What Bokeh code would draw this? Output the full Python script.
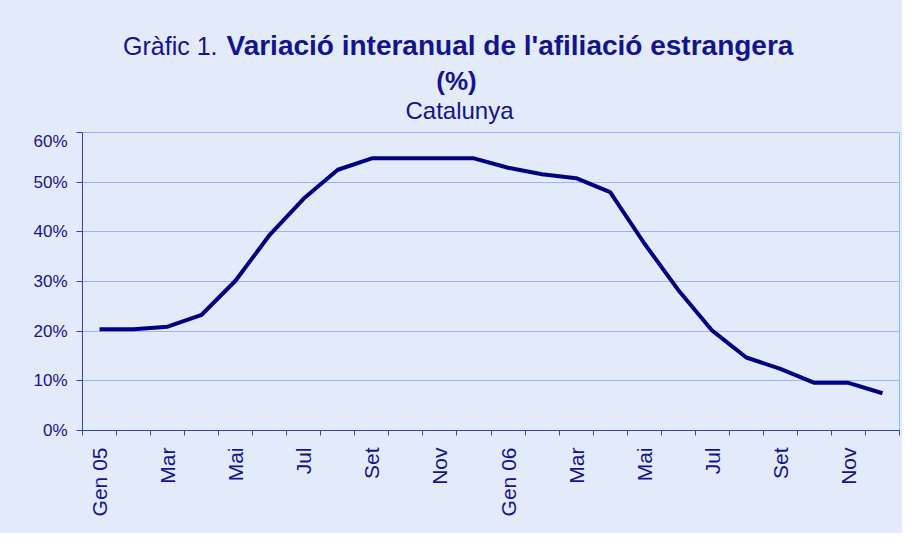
import math
from bokeh.plotting import figure
from bokeh.layouts import column
from bokeh.models import Range1d, FixedTicker, Label, PrintfTickFormatter
from bokeh.embed import file_html
from bokeh.resources import INLINE

# ---- data ----
months = ["Gen 05", "Feb", "Mar", "Abr", "Mai", "Jun", "Jul", "Ago", "Set", "Oct", "Nov", "Des",
          "Gen 06", "Feb", "Mar", "Abr", "Mai", "Jun", "Jul", "Ago", "Set", "Oct", "Nov", "Des"]
variacio = [20.4, 20.4, 20.9, 23.3, 30.2, 39.4, 46.7, 52.5, 54.8, 54.8, 54.8, 54.8,
            52.9, 51.6, 50.8, 48.0, 37.7, 28.3, 20.1, 14.7, 12.4, 9.6, 9.6, 7.5]
y_ticks = [0, 10, 20, 30, 40, 50, 60]

BG = "#E3EAFA"
GRID = "#99B3FF"
AXIS = "#3344AA"
TEXT = "#14148C"
LINE = "#000080"

W = 902
FL, FR = 82, 899  # frame left / right in canvas pixels
TH = 131          # title strip height
PH = 533 - TH     # plot figure height

# ---- title strip (pixel-like coordinates, y downwards) ----
tf = figure(width=W, height=TH, output_backend="svg", toolbar_location=None,
            x_range=Range1d(FL, FR), y_range=Range1d(TH, 0),
            x_axis_location=None, y_axis_location=None,
            background_fill_color=None, border_fill_color=BG,
            min_border_left=FL, min_border_right=W - FR,
            min_border_top=0, min_border_bottom=0, outline_line_color=None)
tf.grid.visible = False

tf.add_layout(Label(x=217, y=45, text="Gràfic 1.", text_align="right",
                    text_baseline="alphabetic", text_font="Liberation Sans",
                    text_font_size="25px", text_color=TEXT))
tf.add_layout(Label(x=226, y=45, text="Variació interanual de l'afiliació estrangera",
                    text_align="left", text_baseline="alphabetic",
                    text_font="Liberation Sans", text_font_style="bold",
                    text_font_size="28px", text_color=TEXT))
tf.add_layout(Label(x=456, y=80, text="(%)", text_align="center",
                    text_baseline="alphabetic", text_font="Liberation Sans",
                    text_font_style="bold", text_font_size="26px", text_color=TEXT))
tf.add_layout(Label(x=459, y=110, text="Catalunya", text_align="center",
                    text_baseline="alphabetic", text_font="Liberation Sans",
                    text_font_size="24px", text_color=TEXT))

# ---- main chart ----
p = figure(width=W, height=PH, output_backend="svg", toolbar_location=None,
           x_range=Range1d(0, len(months)), y_range=Range1d(0, 60),
           background_fill_color=BG, border_fill_color=BG,
           min_border_left=FL, min_border_top=1, min_border_right=W - FR,
           min_border_bottom=PH - 299)

xs = [i + 0.5 for i in range(len(months))]
p.line(xs, variacio, line_color=LINE, line_width=4)

p.outline_line_color = GRID
p.outline_line_width = 1
p.xgrid.grid_line_color = None
p.ygrid.grid_line_color = GRID
p.ygrid.grid_line_width = 1
p.ygrid.ticker = FixedTicker(ticks=y_ticks)

# y axis
ya = p.yaxis[0]
ya.ticker = FixedTicker(ticks=y_ticks)
ya.formatter = PrintfTickFormatter(format="%d%%")
ya.axis_line_color = AXIS
ya.major_tick_line_color = AXIS
ya.major_tick_in = 0
ya.major_tick_out = 6
ya.minor_tick_line_color = None
ya.major_label_text_font = "Liberation Sans"
ya.major_label_text_font_size = "17px"
ya.major_label_text_color = TEXT
ya.major_label_standoff = 9

# x axis
xa = p.xaxis[0]
label_pos = [xs[i] for i in range(0, len(months), 2)]
xa.ticker = FixedTicker(ticks=label_pos, minor_ticks=list(range(len(months) + 1)))
xa.major_label_overrides = {xs[i]: months[i] for i in range(0, len(months), 2)}
xa.major_tick_line_color = None
xa.minor_tick_line_color = AXIS
xa.minor_tick_in = 0
xa.minor_tick_out = 5
xa.axis_line_color = AXIS
xa.major_label_orientation = math.pi / 2
xa.major_label_text_font = "Liberation Sans"
xa.major_label_text_font_size = "21px"
xa.major_label_text_color = TEXT
xa.major_label_standoff = 11

layout = column(tf, p, spacing=0, styles={"background-color": BG})
open("out.html", "w").write(file_html(layout, INLINE))
